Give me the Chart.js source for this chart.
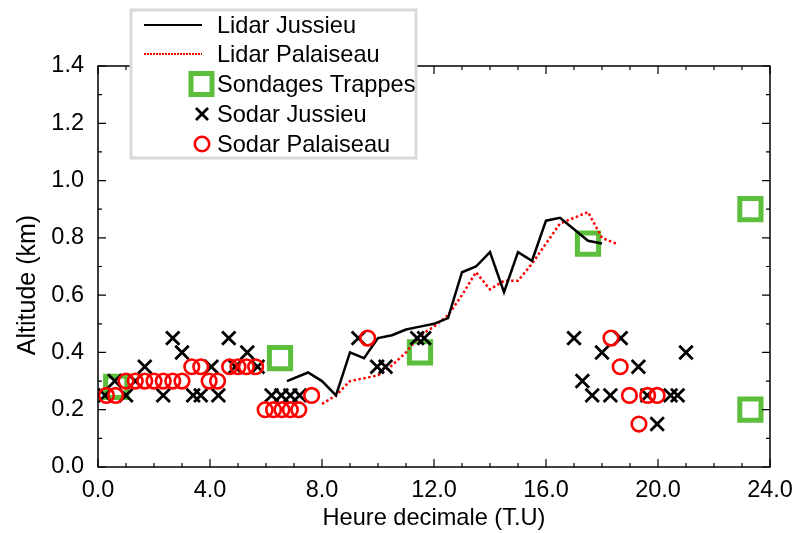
<!DOCTYPE html>
<html>
<head>
<meta charset="utf-8">
<script src="https://cdn.jsdelivr.net/npm/chart.js@4/dist/chart.umd.min.js"></script>
<style>
html,body{margin:0;padding:0;background:#fff;}
#wrap{width:795px;height:533px;position:relative;}
</style>
</head>
<body>
<div id="wrap"><canvas id="c" width="795" height="533"></canvas></div>
<script>
// ---- data ----
const lidarJussieuX = [6.75, 7.5, 8.0, 8.5, 9.0, 9.5, 10.0, 10.5, 11.0, 11.5, 12.0, 12.5, 13.0, 13.5, 14.0, 14.5, 15.0, 15.5, 16.0, 16.5, 17.0, 17.5, 18.0];
const lidarJussieuY = [0.30, 0.33, 0.30, 0.25, 0.40, 0.38, 0.45, 0.46, 0.48, 0.49, 0.50, 0.52, 0.68, 0.70, 0.75, 0.61, 0.75, 0.72, 0.86, 0.87, 0.83, 0.79, 0.78];

const lidarPalaiseauX = [8.0, 8.5, 9.0, 9.5, 10.0, 10.5, 11.0, 11.5, 12.0, 12.5, 13.0, 13.5, 14.0, 14.5, 15.0, 15.5, 16.0, 16.5, 17.0, 17.5, 18.0, 18.5];
const lidarPalaiseauY = [0.22, 0.25, 0.30, 0.31, 0.32, 0.355, 0.40, 0.46, 0.49, 0.53, 0.60, 0.68, 0.62, 0.65, 0.65, 0.71, 0.78, 0.85, 0.87, 0.89, 0.80, 0.78];

const sondagesX = [0.65, 6.5, 11.5, 17.5, 23.3, 23.3];
const sondagesY = [0.28, 0.38, 0.40, 0.78, 0.90, 0.20];

const sodarJussieuX = [0.25, 0.6, 1.0, 1.33, 1.67, 2.33, 2.67, 3.0, 3.4, 3.67, 4.05, 4.3, 4.67, 4.9, 5.33, 5.7, 6.2, 6.55, 6.87, 7.2, 9.3, 9.97, 10.27, 11.4, 11.65, 17.0, 17.3, 17.65, 18.0, 18.3, 18.67, 19.3, 19.62, 19.97, 20.45, 20.7, 21.0];
const sodarJussieuY = [0.25, 0.30, 0.25, 0.30, 0.35, 0.25, 0.45, 0.40, 0.25, 0.25, 0.35, 0.25, 0.45, 0.35, 0.40, 0.35, 0.25, 0.25, 0.25, 0.25, 0.45, 0.35, 0.35, 0.45, 0.45, 0.45, 0.30, 0.25, 0.40, 0.25, 0.45, 0.35, 0.25, 0.15, 0.25, 0.25, 0.40];

const sodarPalaiseauX = [0.3, 0.63, 1.0, 1.33, 1.67, 2.0, 2.33, 2.67, 3.0, 3.35, 3.67, 3.97, 4.27, 4.7, 5.0, 5.3, 5.63, 5.97, 6.27, 6.57, 6.87, 7.17, 7.63, 9.63, 18.32, 18.65, 18.98, 19.32, 19.63, 19.97];
const sodarPalaiseauY = [0.25, 0.25, 0.30, 0.30, 0.30, 0.30, 0.30, 0.30, 0.30, 0.35, 0.35, 0.30, 0.30, 0.35, 0.35, 0.35, 0.35, 0.20, 0.20, 0.20, 0.20, 0.20, 0.25, 0.45, 0.45, 0.35, 0.25, 0.15, 0.25, 0.25];

const seriesNames = ['Lidar Jussieu', 'Lidar Palaiseau', 'Sondages Trappes', 'Sodar Jussieu', 'Sodar Palaiseau'];
const xTitle = 'Heure decimale (T.U)';
const yTitle = 'Altitude (km)';

// ---- build ----
const pts = (xs, ys) => xs.map((x, i) => ({x: x, y: ys[i]}));
const FONT = "'Liberation Sans', Arial, sans-serif";
const GREEN = '#5cbf3c';
const RED = '#ff0000';

const frameTicks = {
  id: 'frameTicks',
  afterDatasetsDraw(chart) {
    const ctx = chart.ctx, a = chart.chartArea;
    const xs = chart.scales.x, ys = chart.scales.y;
    ctx.save();
    ctx.strokeStyle = '#000';
    ctx.lineWidth = 1.5;
    ctx.strokeRect(a.left, a.top, a.right - a.left, a.bottom - a.top);
    ctx.lineWidth = 1.2;
    ctx.beginPath();
    for (let i = 0; i <= 24; i++) {
      const p = xs.getPixelForValue(i);
      const L = (i % 4 === 0) ? 8 : 4;
      ctx.moveTo(p, a.bottom); ctx.lineTo(p, a.bottom - L);
      ctx.moveTo(p, a.top); ctx.lineTo(p, a.top + L);
    }
    for (let i = 0; i <= 14; i++) {
      const p = ys.getPixelForValue(i / 10);
      const L = (i % 2 === 0) ? 8 : 4;
      ctx.moveTo(a.left, p); ctx.lineTo(a.left + L, p);
      ctx.moveTo(a.right, p); ctx.lineTo(a.right - L, p);
    }
    ctx.stroke();
    // y axis title
    ctx.font = '25px ' + FONT;
    ctx.fillStyle = '#000';
    ctx.textAlign = 'center';
    ctx.textBaseline = 'middle';
    ctx.translate(28, 285);
    ctx.rotate(-Math.PI / 2);
    ctx.fillText(yTitle, 0, 0);
    ctx.restore();
  }
};

const legendBox = {
  id: 'legendBox',
  afterDraw(chart) {
    const ctx = chart.ctx;
    ctx.save();
    ctx.fillStyle = '#fff';
    ctx.fillRect(131, 10, 285, 148);
    ctx.strokeStyle = '#d9d9d9';
    ctx.lineWidth = 3;
    ctx.strokeRect(131, 10, 285, 148);
    ctx.font = '23.6px ' + FONT;
    ctx.fillStyle = '#000';
    ctx.textBaseline = 'alphabetic';
    const base = [33, 62, 92, 122, 152];
    const mid = [25, 54, 84, 114, 144];
    for (let i = 0; i < 5; i++) ctx.fillText(seriesNames[i], 217, base[i]);
    // line samples
    ctx.lineWidth = 2.2;
    ctx.strokeStyle = '#000';
    ctx.beginPath(); ctx.moveTo(144, mid[0]); ctx.lineTo(202, mid[0]); ctx.stroke();
    ctx.strokeStyle = RED;
    ctx.setLineDash([2, 1]);
    ctx.beginPath(); ctx.moveTo(144, mid[1]); ctx.lineTo(202, mid[1]); ctx.stroke();
    ctx.setLineDash([]);
    // square
    ctx.strokeStyle = GREEN; ctx.lineWidth = 5;
    ctx.strokeRect(191, mid[2] - 10.5, 21, 21);
    // cross
    ctx.strokeStyle = '#000'; ctx.lineWidth = 2.8;
    ctx.beginPath();
    ctx.moveTo(196, mid[3] - 6); ctx.lineTo(208, mid[3] + 6);
    ctx.moveTo(208, mid[3] - 6); ctx.lineTo(196, mid[3] + 6);
    ctx.stroke();
    // circle
    ctx.strokeStyle = RED; ctx.lineWidth = 2.6;
    ctx.beginPath(); ctx.arc(202, mid[4], 7.2, 0, Math.PI * 2); ctx.stroke();
    ctx.restore();
  }
};

Chart.defaults.font.family = FONT;
Chart.defaults.color = '#000';

new Chart(document.getElementById('c'), {
  type: 'scatter',
  data: {
    datasets: [
      {label: seriesNames[0], data: pts(lidarJussieuX, lidarJussieuY), showLine: true, borderColor: '#000', borderWidth: 2.5, pointRadius: 0, tension: 0, order: 3},
      {label: seriesNames[1], data: pts(lidarPalaiseauX, lidarPalaiseauY), showLine: true, borderColor: RED, borderWidth: 2.5, borderDash: [2.5, 2.5], pointRadius: 0, tension: 0, order: 4},
      {label: seriesNames[2], data: pts(sondagesX, sondagesY), pointStyle: 'rect', pointRadius: 15, borderColor: GREEN, borderWidth: 5, backgroundColor: 'rgba(0,0,0,0)', order: 5},
      {label: seriesNames[3], data: pts(sodarJussieuX, sodarJussieuY), pointStyle: 'crossRot', pointRadius: 9.5, borderColor: '#000', borderWidth: 2.8, order: 2},
      {label: seriesNames[4], data: pts(sodarPalaiseauX, sodarPalaiseauY), pointStyle: 'circle', pointRadius: 7.3, borderColor: RED, borderWidth: 2.6, backgroundColor: 'rgba(0,0,0,0)', order: 1}
    ]
  },
  options: {
    responsive: false,
    animation: false,
    events: [],
    layout: {padding: {left: 0, right: 25, top: 66, bottom: 0}},
    plugins: {legend: {display: false}, tooltip: {enabled: false}},
    scales: {
      x: {
        type: 'linear', min: 0, max: 24,
        grid: {display: false, drawTicks: false},
        border: {display: false},
        ticks: {stepSize: 4, padding: 9, font: {size: 23.5}, color: '#000', maxRotation: 0, callback: v => Number(v).toFixed(1)},
        title: {display: true, text: xTitle, font: {size: 23.6}, color: '#000', padding: {top: 0, bottom: 0}},
        afterFit: s => { s.height = 66; s.paddingLeft = 0; s.paddingRight = 0; }
      },
      y: {
        type: 'linear', min: 0, max: 1.4,
        grid: {display: false, drawTicks: false},
        border: {display: false},
        ticks: {stepSize: 0.2, padding: 14, font: {size: 23.5}, color: '#000', callback: v => Number(v).toFixed(1)},
        afterFit: s => { s.width = 98; s.paddingTop = 0; s.paddingBottom = 0; }
      }
    }
  },
  plugins: [frameTicks, legendBox]
});
</script>
</body>
</html>
